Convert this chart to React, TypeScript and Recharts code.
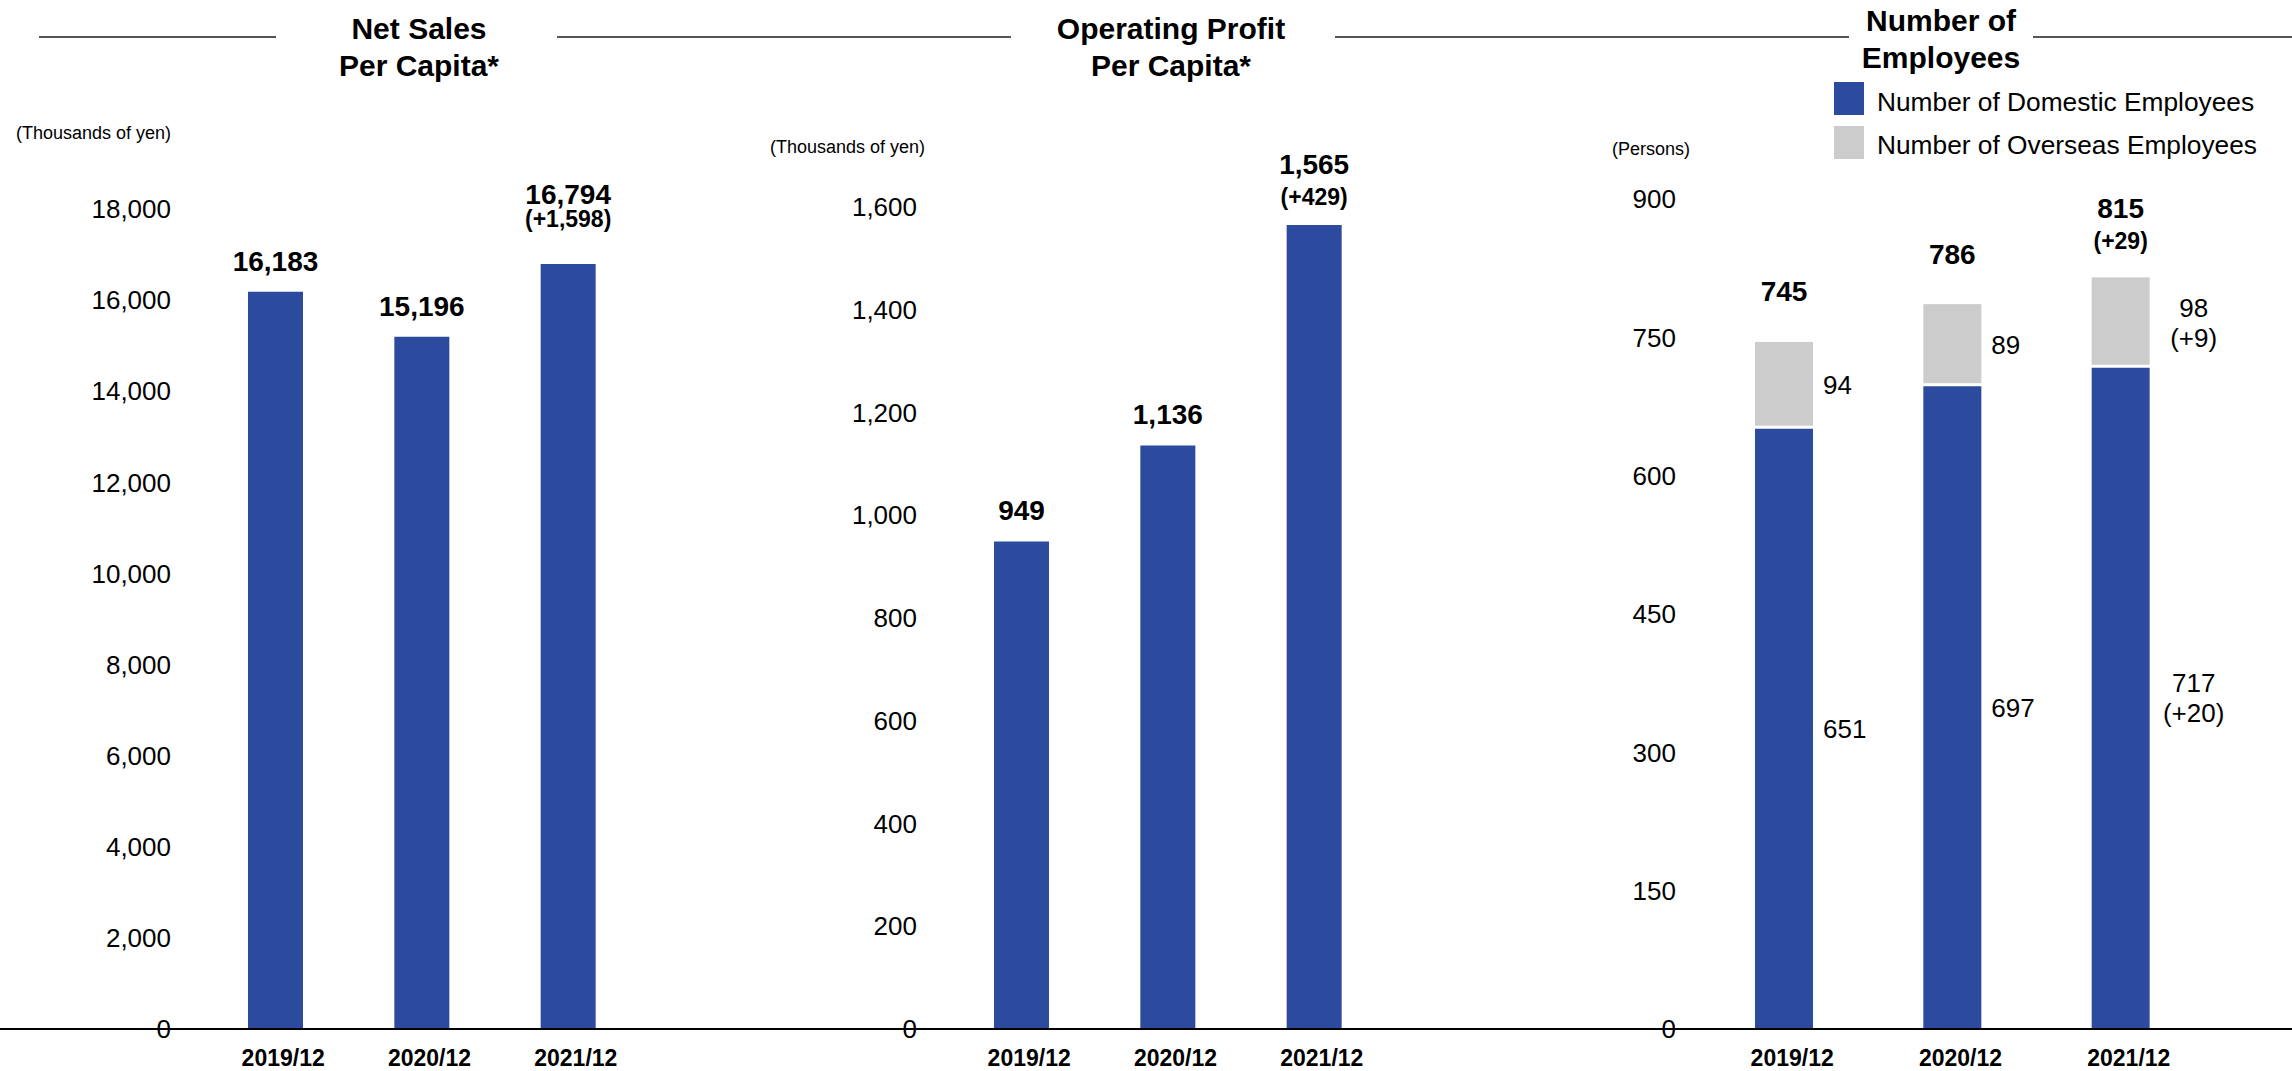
import { BarChart, Bar, XAxis, YAxis, LabelList } from 'recharts'

const FONT = '"Liberation Sans", Arial, Helvetica, sans-serif'
const BLUE = '#2C4A9E'
const GREY = '#CCCCCC'

const years = ['2019/12', '2020/12', '2021/12']

const netSales = [16183, 15196, 16794]
const netSalesChange = ['', '', '(+1,598)']
const netSalesTicks = [0, 2000, 4000, 6000, 8000, 10000, 12000, 14000, 16000, 18000]

const opProfit = [949, 1136, 1565]
const opProfitChange = ['', '', '(+429)']
const opProfitTicks = [0, 200, 400, 600, 800, 1000, 1200, 1400, 1600]

const domestic = [651, 697, 717]
const domesticChange = ['', '', '(+20)']
const overseas = [94, 89, 98]
const overseasChange = ['', '', '(+9)']
const totalChange = ['', '', '(+29)']
const employeeTicks = [0, 150, 300, 450, 600, 750, 900]

const fmt = (v: number) => v.toLocaleString('en-US')
const withChange = (v: number, c: string) => (c ? `${fmt(v)}\n${c}` : fmt(v))

const salesData = years.map((y, i) => ({ year: y, value: netSales[i], label: withChange(netSales[i], netSalesChange[i]) }))
const profitData = years.map((y, i) => ({ year: y, value: opProfit[i], label: withChange(opProfit[i], opProfitChange[i]) }))
const employeeData = years.map((y, i) => ({
  year: y,
  domestic: domestic[i],
  overseas: overseas[i],
  domLabel: withChange(domestic[i], domesticChange[i]),
  ovLabel: withChange(overseas[i], overseasChange[i]),
  totalLabel: withChange(domestic[i] + overseas[i], totalChange[i]),
}))

// bold value above the bar, optional second line with the change
function topLabel(single: number, main: number, sub: number) {
  // eslint-disable-next-line @typescript-eslint/no-explicit-any
  return (props: any) => {
    const { x, y, width, value } = props
    const parts = String(value).split('\n')
    const cx = Number(x) + Number(width) / 2
    const top = Number(y)
    if (parts.length === 1) {
      return (
        <text x={cx} y={top - single} textAnchor="middle" dominantBaseline="central"
          fontFamily={FONT} fontSize={28} fontWeight="bold" fill="#000">{parts[0]}</text>
      )
    }
    return (
      <g>
        <text x={cx} y={top - main} textAnchor="middle" dominantBaseline="central"
          fontFamily={FONT} fontSize={28} fontWeight="bold" fill="#000">{parts[0]}</text>
        <text x={cx} y={top - sub} textAnchor="middle" dominantBaseline="central"
          fontFamily={FONT} fontSize={23} fontWeight="bold" fill="#000">{parts[1]}</text>
      </g>
    )
  }
}

// plain number to the right of a stacked segment
// eslint-disable-next-line @typescript-eslint/no-explicit-any
function sideLabel(props: any) {
  const { x, y, width, height, value } = props
  const parts = String(value).split('\n')
  const right = Number(x) + Number(width)
  const mid = Number(y) + Number(height) / 2
  if (parts.length === 1) {
    return (
      <text x={right + 10} y={mid} textAnchor="start" dominantBaseline="central"
        fontFamily={FONT} fontSize={26} fill="#000">{parts[0]}</text>
    )
  }
  return (
    <g>
      <text x={right + 44} y={mid - 15} textAnchor="middle" dominantBaseline="central"
        fontFamily={FONT} fontSize={26} fill="#000">{parts[0]}</text>
      <text x={right + 44} y={mid + 15} textAnchor="middle" dominantBaseline="central"
        fontFamily={FONT} fontSize={26} fill="#000">{parts[1]}</text>
    </g>
  )
}

// eslint-disable-next-line @typescript-eslint/no-explicit-any
function YearTick(props: any) {
  const { x, y, payload } = props
  return (
    <text x={Number(x) + 8} y={Number(y) + 27} textAnchor="middle" dominantBaseline="central"
      fontFamily={FONT} fontSize={23} fontWeight="bold" fill="#000">{payload.value}</text>
  )
}

// leaves a thin white gap under the overseas segment
// eslint-disable-next-line @typescript-eslint/no-explicit-any
function GapBar(props: any) {
  const { x, y, width, height, fill } = props
  return <rect x={x} y={y} width={width} height={Math.max(0, height - 3)} fill={fill} />
}

const yTick = { fontFamily: FONT, fontSize: 26, fill: '#000' }

function Title({ lines, cx, top }: { lines: string[]; cx: number; top: number }) {
  return (
    <div style={{
      position: 'absolute', left: cx - 150, top, width: 300, textAlign: 'center',
      fontFamily: FONT, fontSize: 30, fontWeight: 'bold', lineHeight: '37px', color: '#000',
    }}>
      {lines.map((l) => <div key={l}>{l}</div>)}
    </div>
  )
}

function Rule({ x1, x2 }: { x1: number; x2: number }) {
  return <div style={{ position: 'absolute', left: x1, top: 36, width: x2 - x1, height: 2, background: '#555' }} />
}

function Unit({ text, x, y }: { text: string; x: number; y: number }) {
  return (
    <div style={{
      position: 'absolute', left: x, top: y - 11, fontFamily: FONT, fontSize: 18,
      lineHeight: '22px', color: '#000', whiteSpace: 'nowrap',
    }}>{text}</div>
  )
}

export default function App() {
  return (
    <div style={{ position: 'absolute', left: 0, top: 0, width: 2292, height: 1071, background: '#fff', overflow: 'hidden' }}>
      <div style={{ position: 'absolute', left: 0, top: 0 }}>
        <BarChart width={700} height={1071} data={salesData} margin={{ top: 209, right: 59, bottom: 2, left: 0 }}>
          <XAxis dataKey="year" axisLine={false} tickLine={false} tickSize={0} height={40} tick={<YearTick />} interval={0} />
          <YAxis type="number" domain={[0, 18000]} ticks={netSalesTicks} interval={0} width={202}
            axisLine={false} tickLine={false} tickSize={0} tickMargin={31} tick={yTick} tickFormatter={fmt} />
          <Bar dataKey="value" fill={BLUE} barSize={55} isAnimationActive={false}>
            <LabelList dataKey="label" content={topLabel(30, 69, 45)} />
          </Bar>
        </BarChart>
      </div>

      <div style={{ position: 'absolute', left: 700, top: 0 }}>
        <BarChart width={760} height={1071} data={profitData} margin={{ top: 207, right: 73, bottom: 2, left: 0 }}>
          <XAxis dataKey="year" axisLine={false} tickLine={false} tickSize={0} height={40} tick={<YearTick />} interval={0} />
          <YAxis type="number" domain={[0, 1600]} ticks={opProfitTicks} interval={0} width={248}
            axisLine={false} tickLine={false} tickSize={0} tickMargin={31} tick={yTick} tickFormatter={fmt} />
          <Bar dataKey="value" fill={BLUE} barSize={55} isAnimationActive={false}>
            <LabelList dataKey="label" content={topLabel(31, 60, 28)} />
          </Bar>
        </BarChart>
      </div>

      <div style={{ position: 'absolute', left: 1460, top: 0 }}>
        <BarChart width={832} height={1071} data={employeeData} margin={{ top: 199, right: 87, bottom: 2, left: 0 }}>
          <XAxis dataKey="year" axisLine={false} tickLine={false} tickSize={0} height={40} tick={<YearTick />} interval={0} />
          <YAxis type="number" domain={[0, 900]} ticks={employeeTicks} interval={0} width={240}
            axisLine={false} tickLine={false} tickSize={0} tickMargin={24} tick={yTick} tickFormatter={fmt} />
          <Bar dataKey="domestic" stackId="emp" fill={BLUE} barSize={58} isAnimationActive={false}>
            <LabelList dataKey="domLabel" content={sideLabel} />
          </Bar>
          <Bar dataKey="overseas" stackId="emp" fill={GREY} barSize={58} shape={<GapBar />} isAnimationActive={false}>
            <LabelList dataKey="ovLabel" content={sideLabel} />
            <LabelList dataKey="totalLabel" content={topLabel(50, 69, 36)} />
          </Bar>
        </BarChart>
      </div>

      {/* shared baseline */}
      <div style={{ position: 'absolute', left: 0, top: 1028, width: 2292, height: 2, background: '#000' }} />

      <Rule x1={39} x2={276} />
      <Rule x1={557} x2={1011} />
      <Rule x1={1335} x2={1849} />
      <Rule x1={2033} x2={2292} />

      <Title lines={['Net Sales', 'Per Capita*']} cx={419} top={10} />
      <Title lines={['Operating Profit', 'Per Capita*']} cx={1171} top={10} />
      <Title lines={['Number of', 'Employees']} cx={1941} top={2} />

      <Unit text="(Thousands of yen)" x={16} y={133} />
      <Unit text="(Thousands of yen)" x={770} y={147} />
      <Unit text="(Persons)" x={1612} y={149} />

      {/* legend */}
      <div style={{ position: 'absolute', left: 1834, top: 82, width: 30, height: 33, background: BLUE }} />
      <div style={{ position: 'absolute', left: 1834, top: 126, width: 30, height: 33, background: GREY }} />
      <div style={{ position: 'absolute', left: 1877, top: 86, fontFamily: FONT, fontSize: 26.3, lineHeight: '32px', color: '#000', whiteSpace: 'nowrap' }}>
        Number of Domestic Employees
      </div>
      <div style={{ position: 'absolute', left: 1877, top: 129, fontFamily: FONT, fontSize: 26.3, lineHeight: '32px', color: '#000', whiteSpace: 'nowrap' }}>
        Number of Overseas Employees
      </div>
    </div>
  )
}
